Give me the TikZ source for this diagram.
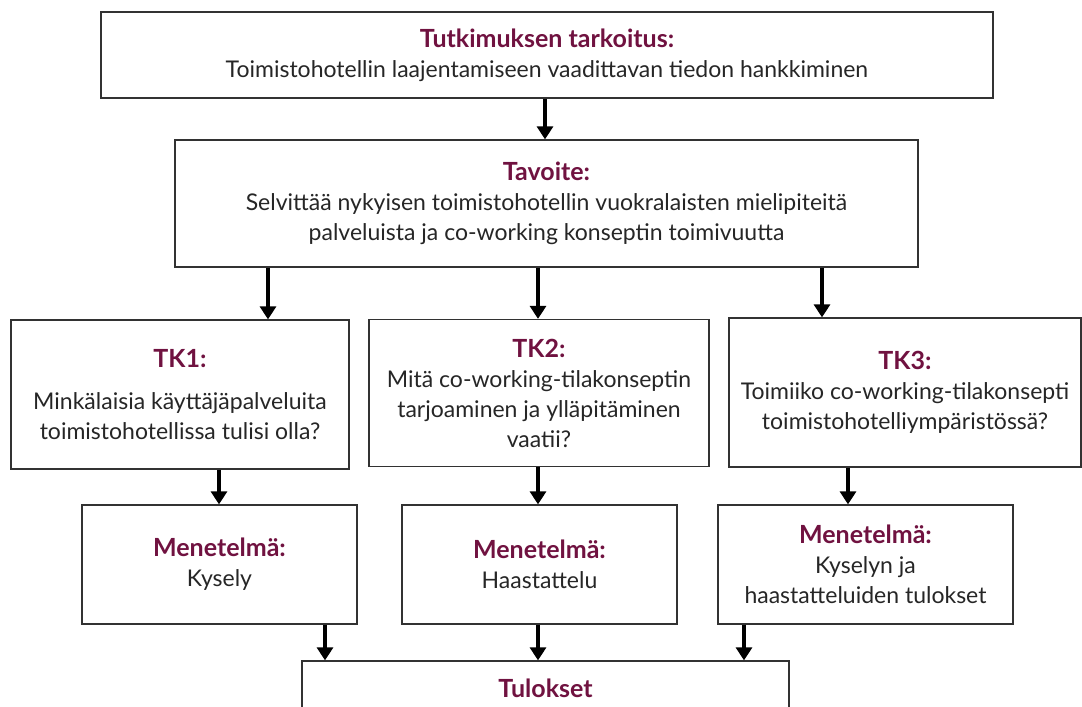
\documentclass[tikz,border=0pt]{standalone}
\usepackage{fontspec}
\setmainfont{Lato}
\usetikzlibrary{arrows.meta}
\definecolor{titlered}{RGB}{112,18,64}
\definecolor{boxline}{RGB}{50,50,50}
\tikzset{
  box/.style={draw=boxline, line width=1.3pt, fill=white, inner sep=0pt, align=center,
    font=\fontsize{23}{30}\selectfont, text=black!85},
  arr/.style={line width=4.2pt, -{Triangle[width=16pt,length=13pt]}},
}
\newcommand{\ttl}[1]{{\fontsize{25}{30}\selectfont\bfseries\color{titlered}#1}}
\begin{document}
\begin{tikzpicture}[x=1pt,y=-1pt]
\useasboundingbox[fill=white] (0,0) rectangle (1082,707);
\node[box, minimum width=892, minimum height=86] (top) at (547,55)
  {\ttl{Tutkimuksen tarkoitus:}\\Toimistohotellin laajentamiseen vaadittavan tiedon hankkiminen};
\node[box, minimum width=743, minimum height=127] (tav) at (546.5,203.5)
  {\ttl{Tavoite:}\\Selvittää nykyisen toimistohotellin vuokralaisten mielipiteitä\\palveluista ja co-working konseptin toimivuutta};
\node[box, minimum width=338, minimum height=149] (tk1) at (180,394.5)
  {\ttl{TK1:}\\[12pt]Minkälaisia käyttäjäpalveluita\\toimistohotellissa tulisi olla?};
\node[box, minimum width=340, minimum height=147] (tk2) at (539,393)
  {\ttl{TK2:}\\Mitä co-working-tilakonseptin\\tarjoaminen ja ylläpitäminen\\vaatii?};
\node[box, minimum width=352, minimum height=149] (tk3) at (905,392.5)
  {\ttl{TK3:}\\Toimiiko co-working-tilakonsepti\\toimistohotelliympäristössä?};
\node[box, minimum width=275, minimum height=119] (m1) at (219.5,564.5)
  {\ttl{Menetelmä:}\\Kysely};
\node[box, minimum width=275, minimum height=119] (m2) at (539.5,564.5)
  {\ttl{Menetelmä:}\\Haastattelu};
\node[box, minimum width=295, minimum height=119] (m3) at (865.5,564.5)
  {\ttl{Menetelmä:}\\Kyselyn ja\\haastatteluiden tulokset};
\node[box, minimum width=487, minimum height=54] (tul) at (545.5,688)
  {\ttl{Tulokset}};
\draw[arr] (top.south -| 545,0) -- (tav.north -| 545,0);
\draw[arr] (tav.south -| 268,0) -- (tk1.north -| 268,0);
\draw[arr] (tav.south -| 538,0) -- (tk2.north -| 538,0);
\draw[arr] (tav.south -| 822,0) -- (tk3.north -| 822,0);
\draw[arr] (tk1.south -| 219,0) -- (m1.north -| 219,0);
\draw[arr] (tk2.south -| 538,0) -- (m2.north -| 538,0);
\draw[arr] (tk3.south -| 848,0) -- (m3.north -| 848,0);
\draw[arr] (m1.south -| 325,0) -- (tul.north -| 325,0);
\draw[arr] (m2.south -| 538,0) -- (tul.north -| 538,0);
\draw[arr] (m3.south -| 744,0) -- (tul.north -| 744,0);
\end{tikzpicture}
\end{document}
